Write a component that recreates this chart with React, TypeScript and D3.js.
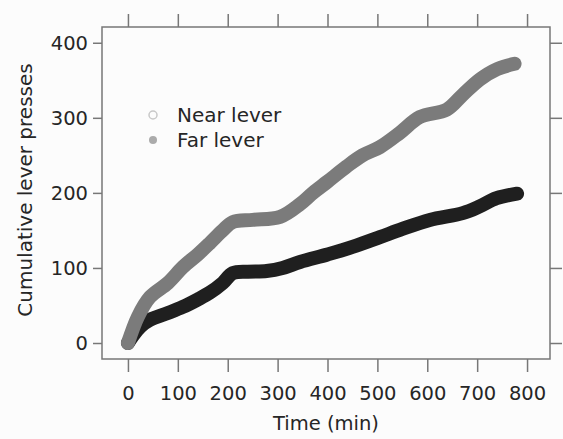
import React, { useEffect, useRef } from "react";
import * as d3 from "d3";

// time in minutes and cumulative presses
const farTime = [0, 20, 44, 80, 110, 140, 164, 190, 210, 250, 305, 345, 371, 400, 438, 470, 505, 545, 585, 639, 670, 705, 740, 775];
const farPresses = [0, 35, 61, 80, 101, 118, 133, 150, 161, 164, 168, 185, 200, 215, 235, 250, 261, 280, 301, 311, 330, 351, 365, 372];

const nearTime = [0, 10, 25, 44, 80, 110, 140, 164, 190, 210, 240, 278, 310, 345, 400, 450, 505, 550, 605, 671, 705, 739, 780];
const nearPresses = [0, 10, 22, 31, 40, 48, 58, 67, 80, 93, 95, 96, 100, 108, 118, 128, 141, 152, 164, 173, 182, 193, 199];

const xTicks = [0, 100, 200, 300, 400, 500, 600, 700, 800];
const yTicks = [0, 100, 200, 300, 400];

const width = 563;
const height = 439;
const font = "'DejaVu Sans', sans-serif";

const App = () => {
  const ref = useRef(null);

  useEffect(() => {
    drawChart();
  }, []);

  const drawChart = () => {
    const svg = d3.select(ref.current);
    svg.selectAll("*").remove();

    const left = 102, right = 550, top = 27, bottom = 359;
    const x = d3.scaleLinear().domain([-52, 846]).range([left, right]);
    const y = d3.scaleLinear().domain([-21.3, 421]).range([bottom, top]);

    svg.append("rect").attr("width", width).attr("height", height).attr("fill", "#fcfcfc");

    const line = d3
      .line()
      .x((d) => x(d[0]))
      .y((d) => y(d[1]))
      .curve(d3.curveCatmullRom);

    const series = [
      { t: nearTime, v: nearPresses, color: "#1f1f1f" },
      { t: farTime, v: farPresses, color: "#7b7b7b" },
    ];
    series.forEach((s) => {
      svg
        .append("path")
        .datum(s.t.map((t, i) => [t, s.v[i]]))
        .attr("d", line)
        .attr("fill", "none")
        .attr("stroke", s.color)
        .attr("stroke-width", 14)
        .attr("stroke-linecap", "round")
        .attr("stroke-linejoin", "round");
    });

    // box
    svg
      .append("rect")
      .attr("x", left)
      .attr("y", top)
      .attr("width", right - left)
      .attr("height", bottom - top)
      .attr("fill", "none")
      .attr("stroke", "#777")
      .attr("stroke-width", 1.5);

    const styleAxis = (g) => {
      g.select(".domain").remove();
      g.selectAll("line").attr("stroke", "#777").attr("stroke-width", 1.5);
      g.selectAll("text").attr("fill", "#262626").attr("font-family", font).attr("font-size", 19.5);
    };

    svg
      .append("g")
      .attr("transform", `translate(0,${bottom})`)
      .call(d3.axisBottom(x).tickValues(xTicks).tickSize(13).tickPadding(14))
      .call(styleAxis);
    svg
      .append("g")
      .attr("transform", `translate(0,${top})`)
      .call(d3.axisTop(x).tickValues(xTicks).tickSize(13).tickFormat(() => ""))
      .call(styleAxis);
    svg
      .append("g")
      .attr("transform", `translate(${left},0)`)
      .call(d3.axisLeft(y).tickValues(yTicks).tickSize(9).tickPadding(5))
      .call(styleAxis);
    svg
      .append("g")
      .attr("transform", `translate(${right},0)`)
      .call(d3.axisRight(y).tickValues(yTicks).tickSize(12).tickFormat(() => ""))
      .call(styleAxis);

    // axis titles
    svg
      .append("text")
      .attr("x", (left + right) / 2)
      .attr("y", 430)
      .attr("text-anchor", "middle")
      .attr("font-family", font)
      .attr("font-size", 19.5)
      .attr("fill", "#262626")
      .text("Time (min)");
    svg
      .append("text")
      .attr("transform", `translate(32,${(top + bottom) / 2 - 3}) rotate(-90)`)
      .attr("text-anchor", "middle")
      .attr("font-family", font)
      .attr("font-size", 20)
      .attr("fill", "#262626")
      .text("Cumulative lever presses");

    // legend
    const legend = [
      { label: "Near lever", fill: "none", stroke: "#c8c8c8", cy: 115 },
      { label: "Far lever", fill: "#ababab", stroke: "none", cy: 140 },
    ];
    legend.forEach((l) => {
      svg
        .append("circle")
        .attr("cx", 153)
        .attr("cy", l.cy)
        .attr("r", 4)
        .attr("fill", l.fill)
        .attr("stroke", l.stroke)
        .attr("stroke-width", 1.5);
      svg
        .append("text")
        .attr("x", 177)
        .attr("y", l.cy)
        .attr("dy", "0.36em")
        .attr("font-family", font)
        .attr("font-size", 20)
        .attr("fill", "#262626")
        .text(l.label);
    });
  };

  return (
    <svg
      ref={ref}
      width={width}
      height={height}
      style={{ position: "absolute", left: 0, top: 0 }}
    />
  );
};

export default App;
